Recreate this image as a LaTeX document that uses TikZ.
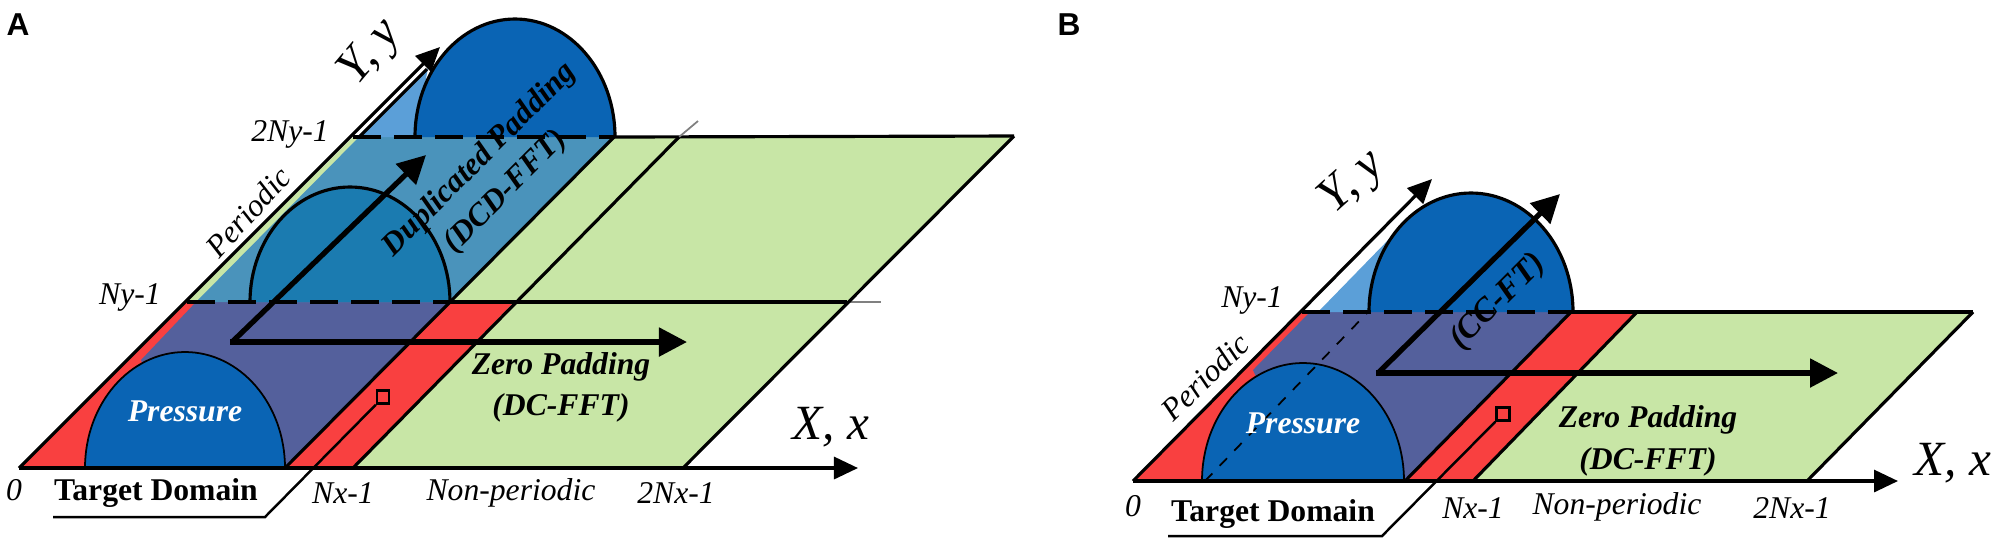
\documentclass[tikz,border=0pt]{standalone}
\usepackage{fontspec}
\setmainfont{Liberation Serif}
\setsansfont{Liberation Sans}
\usetikzlibrary{arrows.meta,positioning}
\definecolor{padgreen}{HTML}{C8E6A6}
\definecolor{padred}{HTML}{F94040}
\definecolor{padpurple}{HTML}{54609C}
\definecolor{padblue}{HTML}{4A93BB}
\definecolor{padsky}{HTML}{5B9FD8}
\definecolor{domeblue}{HTML}{0A64B4}
\definecolor{domeshade}{HTML}{1B7BB0}

\begin{document}
\begin{tikzpicture}[
  x=0.01cm, y=-0.01cm,
  outline/.style={line width=0.9pt},
  thinline/.style={line width=0.5pt},
  leader/.style={line width=0.7pt},
  dashline/.style={line width=0.9pt, dash pattern=on 0.28cm off 0.13cm},
  axis/.style={-{Triangle[length=2.4mm,width=2.2mm]}, line width=0.9pt},
  arrow/.style={-{Triangle[length=2.8mm,width=2.8mm]}, line width=1.5pt},
  plain/.style={inner sep=0pt, font=\fontsize{9}{10}\selectfont\itshape},
  title/.style={inner sep=0pt, font=\fontsize{9}{10}\selectfont\bfseries\itshape},
  target/.style={inner sep=0pt, font=\fontsize{9}{10}\selectfont\bfseries},
  big/.style={inner sep=0pt, font=\fontsize{14}{15}\selectfont\itshape},
  panel/.style={inner sep=0pt, font=\fontsize{9}{10}\selectfont\sffamily\bfseries}
]
\useasboundingbox (0,0) rectangle (2000,547);

% panel A
\coordinate (a0) at (19,468);
\coordinate (aNy) at (187,302);
\coordinate (a2Ny) at (353,137);
\coordinate (aNx) at (285,468);
\coordinate (aRed) at (353,468);
\coordinate (a2Nx) at (683,468);
\coordinate (aTopEnd) at (1014,136);
\coordinate (aMidEnd) at (847,302);
\coordinate (aBlueMid) at (449,302);
\coordinate (aBlueTop) at (614,137);
\coordinate (aRedMid) at (514,302);
\coordinate (aRedTop) at (679,137);
\fill[padgreen] (a2Ny) -- (aTopEnd) -- (a2Nx) -- (a0) -- cycle;
\fill[padred] (a0) -- (aNy) -- (aRedMid) -- (aRed) -- cycle;
\fill[padpurple] (196,302) -- (aBlueMid) -- (aNx) -- (185,468) -- (141,360) -- cycle;
\fill[padblue] (196,302) -- (359,137) -- (aBlueTop) -- (aBlueMid) -- cycle;
\fill[padsky] (359,137) -- (428,68) -- (415,137) -- cycle;
\filldraw[fill=domeblue, outline] (415,137) arc[start angle=180, end angle=360, x radius=100, y radius=118];
\filldraw[fill=domeshade, outline] (250,302) arc[start angle=180, end angle=360, x radius=100, y radius=115];
\filldraw[fill=domeblue, thinline] (85,468) arc[start angle=180, end angle=360, x radius=100, y radius=116];
\draw[outline] (aBlueTop) -- (aTopEnd);
\draw[outline] (aBlueMid) -- (aMidEnd);
\draw[dashline] (a2Ny) -- (aBlueTop);
\draw[dashline] (aNy) -- (aBlueMid);
\draw[thinline, gray] (aMidEnd) -- (881,302);
\draw[thinline, gray] (aRedTop) -- (698,121);
\draw[outline] (aBlueTop) -- (aNx);
\draw[outline] (aRedTop) -- (aRed);
\draw[outline] (aTopEnd) -- (a2Nx);
\draw[outline] (359,137) -- (427,69);
\draw[axis] (a0) -- (440,47);
\draw[axis] (a0) -- (858,468);
\draw[arrow] (232,342) -- (426,155);
\draw[arrow] (230,342) -- (687,342);
\node[draw, leader, minimum width=0.12cm, minimum height=0.13cm, inner sep=0pt] (aMark) at (383,397) {};
\coordinate (aBend) at (265,517);
\coordinate (aEnd) at (53,517);
\draw[leader] (aMark.south west) -- (aBend) -- (aEnd);
\node[panel] (aPanel) at (18,25) {A};
\node[big, rotate=50] (aY) at (371,53) {Y, y};
\node[big] (aX) at (831,427) {X, x};
\node[plain] (a2NyLabel) at (290,134) {2Ny-1};
\node[plain] (aNyLabel) at (130,297) {Ny-1};
\node[plain, rotate=48] (aPeriodic) at (248,212) {Periodic};
\node[plain] (aZero) at (14,490) {0};
\node[target] (aTarget) at (156,493) {Target Domain};
\node[plain] (aNxLabel) at (343,493) {Nx-1};
\node[plain] (aNon) at (511,493) {Non-periodic};
\node[plain] (a2NxLabel) at (676,493) {2Nx-1};
\node[title, text=white] (aPressure) at (185,411) {Pressure};
\node[title] (aPad) at (561,367) {Zero Padding};
\node[title] (aPadFft) at (561,408) {(DC-FFT)};
\node[title, rotate=45] (aDup) at (480,160) {Duplicated Padding};
\node[title, rotate=45] (aDupFft) at (506,192) {(DCD-FFT)};

% panel B
\coordinate (b0) at (1133,481);
\coordinate (bNy) at (1302,312);
\coordinate (bNx) at (1405,481);
\coordinate (bRed) at (1473,481);
\coordinate (b2Nx) at (1807,481);
\coordinate (bTopEnd) at (1973,312);
\coordinate (bBlueTop) at (1571,312);
\coordinate (bRedTop) at (1637,312);
\fill[padgreen] (bRedTop) -- (bTopEnd) -- (b2Nx) -- (bRed) -- cycle;
\fill[padred] (b0) -- (bNy) -- (bRedTop) -- (bRed) -- cycle;
\fill[padpurple] (1310,312) -- (bBlueTop) -- (bNx) -- (1303,481) -- (1253,370) -- cycle;
\fill[padsky] (1318,312) -- (1392,236) -- (1369,312) -- cycle;
\filldraw[fill=domeblue, outline] (1369,312) arc[start angle=180, end angle=360, x radius=102, y radius=119];
\filldraw[fill=domeblue, thinline] (1202,481) arc[start angle=180, end angle=360, x radius=101, y radius=118];
\draw[thinline, dashed] (1205,481) -- (1368,312);
\draw[outline] (bBlueTop) -- (bTopEnd);
\draw[dashline] (bNy) -- (bBlueTop);
\draw[outline] (bBlueTop) -- (bNx);
\draw[outline] (bRedTop) -- (bRed);
\draw[outline] (bTopEnd) -- (b2Nx);
\draw[axis] (b0) -- (1432,179);
\draw[axis] (b0) -- (1898,481);
\draw[arrow] (1378,373) -- (1560,194);
\draw[arrow] (1376,373) -- (1838,373);
\node[draw, leader, minimum width=0.13cm, minimum height=0.13cm, inner sep=0pt] (bMark) at (1503,414) {};
\coordinate (bBend) at (1382,536);
\coordinate (bEnd) at (1168,536);
\draw[leader] (bMark.south west) -- (bBend) -- (bEnd);
\node[panel] (bPanel) at (1069,25) {B};
\node[big, rotate=42] (bY) at (1353,183) {Y, y};
\node[big] (bX) at (1953,463) {X, x};
\node[plain] (bNyLabel) at (1252,300) {Ny-1};
\node[plain, rotate=44] (bPeriodic) at (1205,377) {Periodic};
\node[plain] (bZero) at (1133,506) {0};
\node[target] (bTarget) at (1273,514) {Target Domain};
\node[plain] (bNxLabel) at (1473,508) {Nx-1};
\node[plain] (bNon) at (1617,507) {Non-periodic};
\node[plain] (b2NxLabel) at (1792,508) {2Nx-1};
\node[title, text=white] (bPressure) at (1303,423) {Pressure};
\node[title] (bPad) at (1648,420) {Zero Padding};
\node[title] (bPadFft) at (1648,462) {(DC-FFT)};
\node[title, rotate=45, font=\fontsize{9.5}{11}\selectfont\bfseries\itshape] (bCc) at (1498,302) {(CC-FT)};
\end{tikzpicture}
\end{document}
